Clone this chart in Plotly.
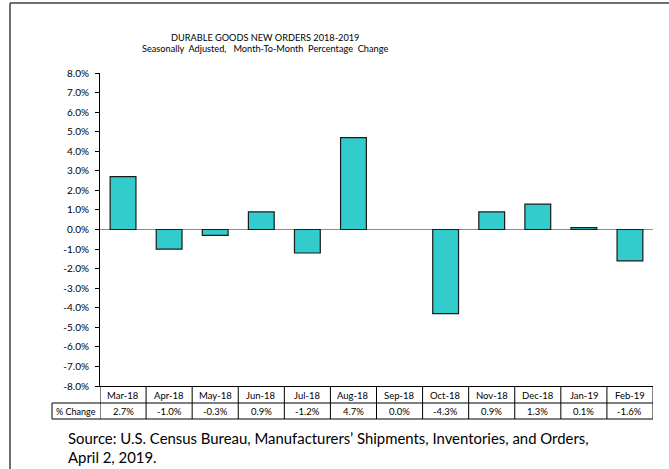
import plotly.graph_objects as go

months = ["Mar-18", "Apr-18", "May-18", "Jun-18", "Jul-18", "Aug-18",
          "Sep-18", "Oct-18", "Nov-18", "Dec-18", "Jan-19", "Feb-19"]
pct_change = [2.7, -1.0, -0.3, 0.9, -1.2, 4.7, 0.0, -4.3, 0.9, 1.3, 0.1, -1.6]
y_ticks = [-8, -7, -6, -5, -4, -3, -2, -1, 0, 1, 2, 3, 4, 5, 6, 7, 8]

FONT = "Lato"
W, H = 669, 469
L, R, T, B = 100, 16, 73, 83
pw, ph = W - L - R, H - T - B

def py(pix):  # pixel y -> paper y
    return (H - B - pix) / ph

def px(pix):  # pixel x -> paper x
    return (pix - L) / pw

outline = ["rgba(0,0,0,0)" if v == 0 else "#1a1a1a" for v in pct_change]

fig = go.Figure(go.Bar(
    x=list(range(len(months))), y=pct_change,
    marker=dict(color="#33CCCC", line=dict(color=outline, width=1.2)),
    width=0.56, hoverinfo="skip",
))

shapes = []
annotations = []
row1_bot = py(403)
row2_bot = py(419)
n = len(months)
LC = dict(color="black", width=1)
for i in range(n + 1):
    shapes.append(dict(type="line", xref="x", yref="paper", x0=i - 0.5, x1=i - 0.5,
                       y0=0, y1=row2_bot, line=LC))
shapes.append(dict(type="line", xref="paper", yref="paper", x0=px(52), x1=1,
                   y0=row1_bot, y1=row1_bot, line=LC))
shapes.append(dict(type="line", xref="paper", yref="paper", x0=px(52), x1=1,
                   y0=row2_bot, y1=row2_bot, line=LC))
shapes.append(dict(type="line", xref="paper", yref="paper", x0=px(52), x1=px(52),
                   y0=row1_bot, y1=row2_bot, line=LC))
# outer frame (left & top)
shapes.append(dict(type="line", xref="paper", yref="paper", x0=px(10), x1=px(10),
                   y0=py(3), y1=py(480), line=dict(color="#404040", width=1.5)))
shapes.append(dict(type="line", xref="paper", yref="paper", x0=px(10), x1=px(680),
                   y0=py(3), y1=py(3), line=dict(color="#404040", width=1.5)))

def ann(x, y, text, size, xref="paper", xanchor="center"):
    annotations.append(dict(x=x, y=y, xref=xref, yref="paper", text=text,
                            xanchor=xanchor, yanchor="middle", showarrow=False,
                            font=dict(size=size, color="black", family=FONT)))

for i, (m, v) in enumerate(zip(months, pct_change)):
    ann(i, py(395), m, 9.5, xref="x")
    ann(i, py(411.5), f"{v:.1f}%", 9.5, xref="x")
ann(px(76), py(411.5), "% Change", 9)
ann(px(265), py(37), "DURABLE GOODS NEW ORDERS 2018-2019", 9.2)
ann(px(265), py(49), "Seasonally  Adjusted,   Month-To-Month  Percentage  Change", 9.2)
ann(px(66), py(438), "Source: U.S. Census Bureau, Manufacturers\u2019 Shipments, Inventories, and Orders,", 14.9, xanchor="left")
ann(px(66), py(456.5), "April 2, 2019.", 14.9, xanchor="left")

fig.update_layout(
    width=W, height=H,
    margin=dict(l=L, r=R, t=T, b=B, pad=0),
    paper_bgcolor="white", plot_bgcolor="white",
    showlegend=False,
    bargap=0.44,
    font=dict(family=FONT, size=10, color="black"),
    xaxis=dict(range=[-0.5, n - 0.5], showticklabels=False, ticks="",
               showgrid=False, zeroline=False, showline=True,
               linecolor="black", linewidth=1, fixedrange=True),
    yaxis=dict(range=[-8, 8], tickvals=y_ticks,
               ticktext=[f"{t:.1f}%" for t in y_ticks],
               ticks="outside", ticklen=4, tickcolor="black",
               ticklabelstandoff=4,
               showgrid=False, zeroline=True, zerolinecolor="#8c8c8c", zerolinewidth=1.5,
               showline=True, linecolor="black", linewidth=1,
               tickfont=dict(size=10, family=FONT, color="black"), fixedrange=True),
    shapes=shapes, annotations=annotations,
)

fig.write_html("out.html", config={"displayModeBar": False, "staticPlot": True},
               post_script="document.body.style.margin='0';document.body.style.overflow='hidden';")
